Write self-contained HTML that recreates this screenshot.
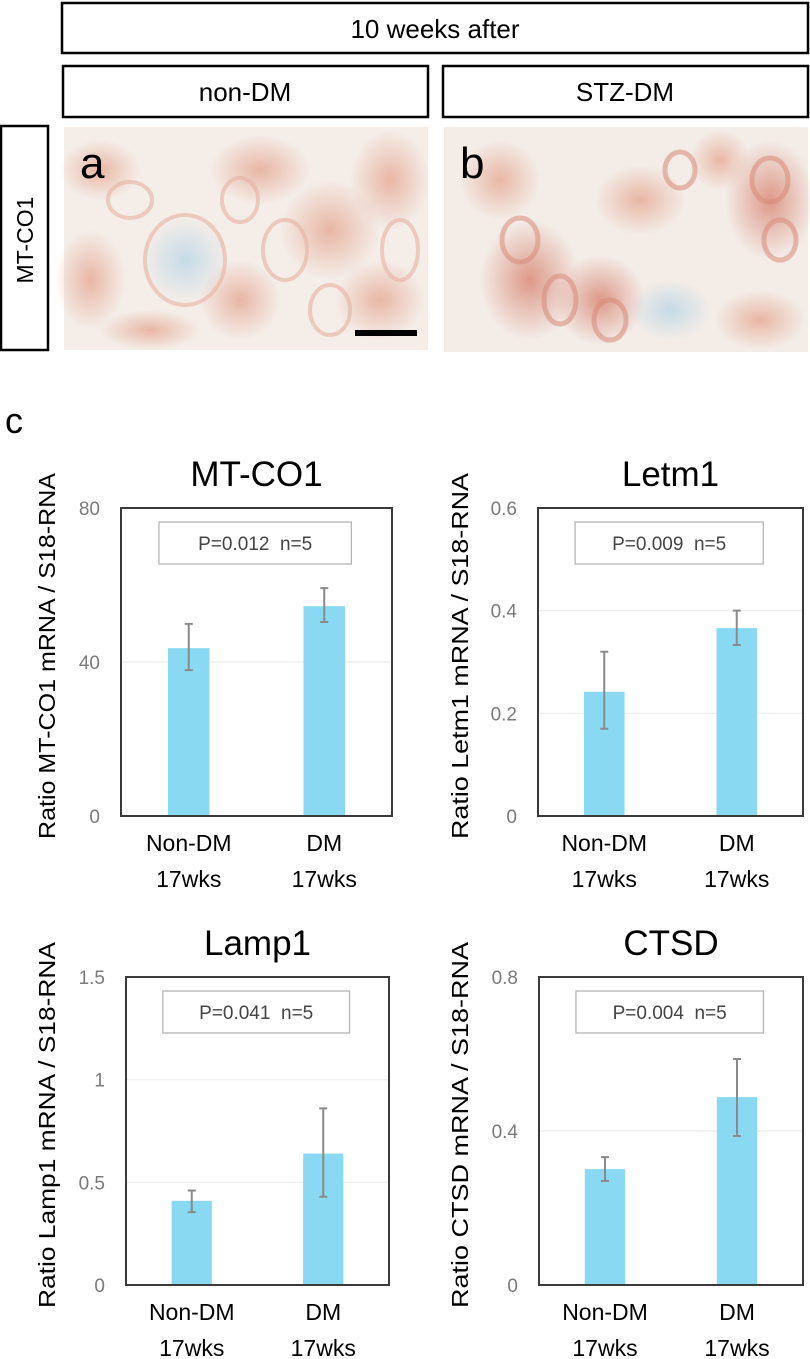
<!DOCTYPE html>
<html><head><meta charset="utf-8">
<style>
html,body{margin:0;padding:0;background:#fff;}
svg{display:block;}
text{font-family:"Liberation Sans",Arial,sans-serif;white-space:pre;}
</style></head>
<body>
<svg id="fig" width="810" height="1359" viewBox="0 0 810 1359" xmlns="http://www.w3.org/2000/svg">
  <defs>
    <radialGradient id="pk" cx="50%" cy="50%" r="50%">
      <stop offset="0" stop-color="#e4a48e" stop-opacity="0.75"/>
      <stop offset="1" stop-color="#e4a48e" stop-opacity="0"/>
    </radialGradient>
    <radialGradient id="pk2" cx="50%" cy="50%" r="50%">
      <stop offset="0" stop-color="#d98a78" stop-opacity="0.85"/>
      <stop offset="1" stop-color="#d98a78" stop-opacity="0"/>
    </radialGradient>
    <radialGradient id="bl" cx="50%" cy="50%" r="50%">
      <stop offset="0" stop-color="#b9d6e6" stop-opacity="0.8"/>
      <stop offset="1" stop-color="#b9d6e6" stop-opacity="0"/>
    </radialGradient>
  </defs>
  <g>
    <rect x="62" y="3" width="746" height="50" fill="#fff" stroke="#000" stroke-width="2.5"/>
    <text x="435" y="38" font-size="26" text-anchor="middle">10 weeks after</text>
  </g>
  <g>
    <rect x="63" y="66" width="365" height="51" fill="#fff" stroke="#000" stroke-width="2.5"/>
    <text x="245" y="101" font-size="26" text-anchor="middle">non-DM</text>
  </g>
  <g>
    <rect x="443" y="66" width="365" height="51" fill="#fff" stroke="#000" stroke-width="2.5"/>
    <text x="625" y="101" font-size="26" text-anchor="middle">STZ-DM</text>
  </g>
  <g>
    <rect x="1" y="126" width="47" height="224" fill="#fff" stroke="#000" stroke-width="2.5"/>
    <text x="0" y="0" font-size="23" text-anchor="middle" transform="translate(33,240) rotate(-90)">MT-CO1</text>
  </g>
  <g>
    <rect x="64" y="127" width="364" height="223" fill="#f4ede8"/>
    <ellipse cx="100" cy="170" rx="40" ry="30" fill="url(#pk)"/>
    <ellipse cx="90" cy="280" rx="35" ry="50" fill="url(#pk)"/>
    <ellipse cx="260" cy="170" rx="50" ry="35" fill="url(#pk)"/>
    <ellipse cx="330" cy="230" rx="50" ry="50" fill="url(#pk)"/>
    <ellipse cx="390" cy="180" rx="40" ry="50" fill="url(#pk)"/>
    <ellipse cx="380" cy="300" rx="45" ry="40" fill="url(#pk)"/>
    <ellipse cx="240" cy="300" rx="40" ry="40" fill="url(#pk)"/>
    <ellipse cx="185" cy="260" rx="42" ry="42" fill="url(#bl)"/>
    <ellipse cx="150" cy="330" rx="50" ry="20" fill="url(#pk)"/>
    <g fill="none" stroke="#e6b3a2" stroke-width="4" opacity="0.6">
      <ellipse cx="185" cy="260" rx="40" ry="45"/>
      <ellipse cx="285" cy="250" rx="22" ry="30"/>
      <ellipse cx="240" cy="200" rx="18" ry="22"/>
      <ellipse cx="330" cy="310" rx="20" ry="25"/>
      <ellipse cx="130" cy="200" rx="22" ry="18"/>
      <ellipse cx="400" cy="250" rx="18" ry="30"/>
    </g>
    <text x="80" y="178" font-size="44">a</text>
    <rect x="355" y="330" width="62" height="6" fill="#000"/>
  </g>
  <g>
    <rect x="444" y="127" width="364" height="225" fill="#f3ece7"/>
    <ellipse cx="530" cy="280" rx="50" ry="60" fill="url(#pk2)"/>
    <ellipse cx="600" cy="300" rx="45" ry="45" fill="url(#pk2)"/>
    <ellipse cx="640" cy="200" rx="45" ry="35" fill="url(#pk)"/>
    <ellipse cx="770" cy="200" rx="45" ry="60" fill="url(#pk2)"/>
    <ellipse cx="720" cy="160" rx="30" ry="30" fill="url(#pk)"/>
    <ellipse cx="500" cy="180" rx="40" ry="40" fill="url(#pk)"/>
    <ellipse cx="670" cy="310" rx="40" ry="30" fill="url(#bl)"/>
    <ellipse cx="760" cy="320" rx="45" ry="30" fill="url(#pk)"/>
    <g fill="none" stroke="#d88a78" stroke-width="5" opacity="0.55">
      <ellipse cx="520" cy="240" rx="18" ry="22"/>
      <ellipse cx="560" cy="300" rx="16" ry="24"/>
      <ellipse cx="610" cy="320" rx="16" ry="20"/>
      <ellipse cx="770" cy="180" rx="18" ry="22"/>
      <ellipse cx="780" cy="240" rx="16" ry="20"/>
      <ellipse cx="680" cy="170" rx="15" ry="18"/>
    </g>
    <text x="460" y="178" font-size="44">b</text>
  </g>
  <text x="5" y="433" font-size="36">c</text>
  <g id="charts"></g>
</svg>
<script>
// ---- data ----
const categories = ["Non-DM", "DM"];
const catSub = ["17wks", "17wks"];
const chartTitles = ["MT-CO1", "Letm1", "Lamp1", "CTSD"];
const yLabels = ["Ratio MT-CO1 mRNA / S18-RNA", "Ratio Letm1 mRNA / S18-RNA", "Ratio Lamp1 mRNA / S18-RNA", "Ratio CTSD mRNA / S18-RNA"];
const pLabels = ["P=0.012  n=5", "P=0.009  n=5", "P=0.041  n=5", "P=0.004  n=5"];
const ticksMTCO1 = [0, 40, 80];
const ticksLetm1 = [0, 0.2, 0.4, 0.6];
const ticksLamp1 = [0, 0.5, 1, 1.5];
const ticksCTSD = [0, 0.4, 0.8];
const meanMTCO1 = [43.6, 54.5];
const errHiMTCO1 = [49.9, 59.2];
const errLoMTCO1 = [37.9, 50.4];
const meanLetm1 = [0.242, 0.366];
const errHiLetm1 = [0.32, 0.40];
const errLoLetm1 = [0.17, 0.333];
const meanLamp1 = [0.41, 0.64];
const errHiLamp1 = [0.46, 0.86];
const errLoLamp1 = [0.355, 0.43];
const meanCTSD = [0.301, 0.488];
const errHiCTSD = [0.332, 0.587];
const errLoCTSD = [0.27, 0.387];

const NS = "http://www.w3.org/2000/svg";
function mk(tag, attrs, parent) {
  const e = document.createElementNS(NS, tag);
  for (const k in attrs) e.setAttribute(k, attrs[k]);
  parent.appendChild(e);
  return e;
}
const root = document.getElementById("charts");
const layouts = [
  {x0:121, x1:392, y0:508, y1:816, ylx:47},
  {x0:538, x1:803, y0:508, y1:816, ylx:460},
  {x0:126, x1:389, y0:977, y1:1285, ylx:47},
  {x0:539, x1:803, y0:977, y1:1285, ylx:460}
];
const allTicks = [ticksMTCO1, ticksLetm1, ticksLamp1, ticksCTSD];
const allMean = [meanMTCO1, meanLetm1, meanLamp1, meanCTSD];
const allHi = [errHiMTCO1, errHiLetm1, errHiLamp1, errHiCTSD];
const allLo = [errLoMTCO1, errLoLetm1, errLoLamp1, errLoCTSD];

layouts.forEach((L, ci) => {
  const g = mk("g", {}, root);
  
  
  const ticks = allTicks[ci];
  const ymax = ticks[ticks.length - 1];
  const yS = v => L.y1 - (v / ymax) * (L.y1 - L.y0);
  const w = L.x1 - L.x0;
  const xC = i => L.x0 + w * (0.25 + 0.5 * i);
  const bw = w * 0.153;
  ticks.forEach(t => {
    if (t > 0 && t < ymax) {
      const gl = mk("line", {x1:L.x0, x2:L.x1, y1:yS(t), y2:yS(t), stroke:"#ececec", "stroke-width":1.2}, g);
      
      
    }
    const tl = mk("text", {x:L.x0 - 21, y:yS(t) + 7, "font-size":19, fill:"#7a7a7a", "text-anchor":"end"}, g);
    
    
    tl.textContent = String(t);
  });
  allMean[ci].forEach((v, i) => {
    const b = mk("rect", {x:xC(i) - bw / 2, y:yS(v), width:bw, height:yS(0) - yS(v), fill:"#89d9f3"}, g);
    
    
    const hi = yS(allHi[ci][i]), lo = yS(allLo[ci][i]);
    const eb = mk("path", {d:`M${xC(i)},${hi}V${lo}M${xC(i)-4},${hi}H${xC(i)+4}M${xC(i)-4},${lo}H${xC(i)+4}`, stroke:"#8a8a8a", "stroke-width":2, fill:"none"}, g);
    
    
    const xl = mk("text", {x:xC(i), y:L.y1 + 35, "font-size":23, "text-anchor":"middle"}, g);
    
    
    xl.textContent = categories[i];
    const xs = mk("text", {x:xC(i), y:L.y1 + 71, "font-size":23, "text-anchor":"middle"}, g);
    
    
    xs.textContent = catSub[i];
  });
  const fr = mk("rect", {x:L.x0, y:L.y0, width:w, height:L.y1 - L.y0, fill:"none", stroke:"#3a3a3a", "stroke-width":2}, g);
  
  
  const lx = L.x0 + w * 0.14, lw = w * 0.71;
  const lb = mk("rect", {x:lx, y:L.y0 + 14, width:lw, height:42, fill:"#fff", stroke:"#b5b5b5", "stroke-width":1.3}, g);
  
  
  const lt = mk("text", {x:lx + lw / 2, y:L.y0 + 42, "font-size":19, fill:"#444", "text-anchor":"middle"}, g);
  
  
  lt.textContent = pLabels[ci];
  const tt = mk("text", {x:(L.x0 + L.x1) / 2, y:L.y0 - 22, "font-size":35, "text-anchor":"middle"}, g);
  
  
  tt.textContent = chartTitles[ci];
  const cy = (L.y0 + L.y1) / 2 - 6;
  const yl = mk("text", {x:0, y:0, "font-size":23, "text-anchor":"middle", textLength:366, lengthAdjust:"spacingAndGlyphs", transform:`translate(${L.ylx + 8},${cy}) rotate(-90)`}, g);
  
  
  yl.textContent = yLabels[ci];
});
</script>
</body></html>
